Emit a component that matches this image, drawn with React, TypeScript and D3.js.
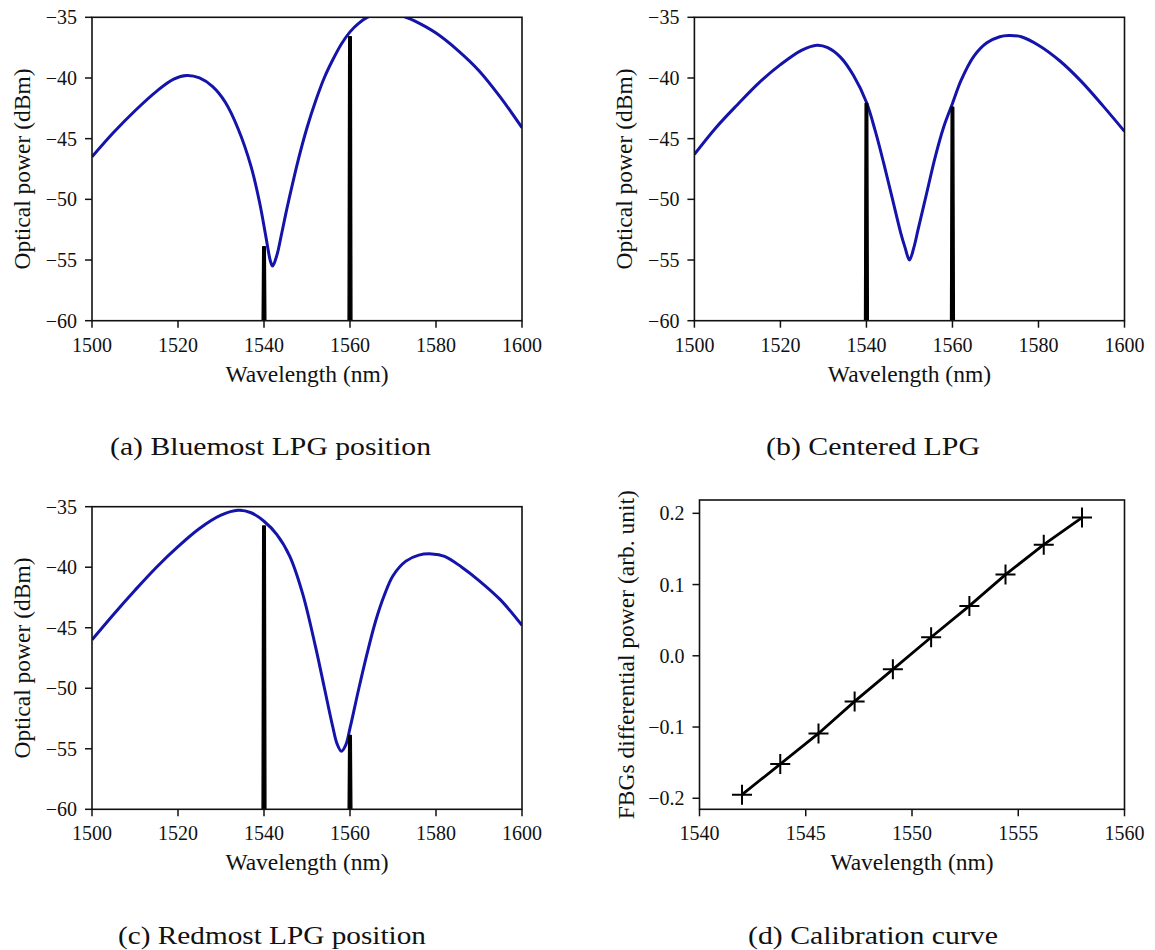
import React from "react";
import * as d3 from "d3";

// ---------- data ----------
const spectrumXTicks = [1500, 1520, 1540, 1560, 1580, 1600];
const spectrumYTicks = [-35, -40, -45, -50, -55, -60];
const fbgCenters = [1540, 1560];

const wlA = [1500, 1505, 1510, 1515, 1519, 1522, 1525, 1528, 1531, 1534, 1537, 1539, 1540.5, 1541.5, 1542, 1543, 1544, 1545, 1546, 1548, 1550, 1552, 1554, 1556, 1558, 1560, 1562, 1564, 1567, 1570, 1573, 1575, 1580, 1585, 1590, 1595, 1600];
const pA = [-46.5, -44.5, -42.7, -41.1, -40.1, -39.8, -40.0, -40.7, -42.0, -44.2, -47.3, -50.3, -53.2, -55.1, -55.5, -54.6, -53.0, -51.3, -49.7, -46.7, -44.1, -41.9, -40.0, -38.5, -37.2, -36.2, -35.5, -35.0, -34.7, -34.7, -35.0, -35.3, -36.3, -37.7, -39.4, -41.6, -44.1];
const fbgPeakA = [-53.9, -36.6];

const wlB = [1500, 1505, 1510, 1515, 1520, 1525, 1528.5, 1531, 1534, 1537, 1540, 1542, 1544, 1546, 1548, 1549, 1550, 1551, 1552, 1554, 1556, 1558, 1560, 1562, 1565, 1568, 1571, 1573, 1576, 1580, 1585, 1590, 1595, 1600];
const pB = [-46.3, -44.1, -42.2, -40.4, -38.9, -37.7, -37.3, -37.5, -38.3, -39.8, -42.0, -44.3, -47.0, -49.9, -52.8, -54.0, -55.0, -54.0, -52.5, -49.5, -46.5, -44.0, -42.1, -40.2, -38.2, -37.1, -36.6, -36.5, -36.6, -37.3, -38.6, -40.3, -42.3, -44.4];
const fbgPeakB = [-42.1, -42.4];

const wlC = [1500, 1505, 1510, 1515, 1520, 1525, 1530, 1534, 1537, 1540, 1543, 1546, 1549, 1552, 1554, 1556, 1557, 1558, 1559, 1560, 1562, 1564, 1566, 1568, 1570, 1573, 1576, 1579, 1582, 1586, 1590, 1595, 1600];
const pC = [-46.0, -43.9, -41.9, -40.0, -38.3, -36.8, -35.7, -35.3, -35.5, -36.2, -37.3, -39.1, -42.2, -46.6, -49.9, -53.2, -54.6, -55.2, -54.7, -53.3, -50.1, -47.1, -44.4, -42.3, -40.7, -39.5, -39.0, -38.9, -39.1, -40.0, -41.1, -42.7, -44.8];
const fbgPeakC = [-36.6, -53.9];

const calibXTicks = [1540, 1545, 1550, 1555, 1560];
const calibYTicks = [0.2, 0.1, 0.0, -0.1, -0.2];
const calibWl = [1542.0, 1543.8, 1545.6, 1547.3, 1549.1, 1550.9, 1552.7, 1554.4, 1556.2, 1558.0];
const calibDiff = [-0.195, -0.152, -0.109, -0.064, -0.019, 0.026, 0.070, 0.114, 0.156, 0.194];

const captions = ["(a) Bluemost LPG position", "(b) Centered LPG", "(c) Redmost LPG position", "(d) Calibration curve"];

// ---------- style ----------
const FONT = "Liberation Serif, Tinos, Times New Roman, DejaVu Serif, serif";
const TICK = 7;
const AX = "#111";
const BLUE = "#1414aa";

const minus = (s: string) => s.replace("-", "\u2212");

type Box = { left: number; right: number; top: number; bottom: number };

function Frame({ xs, ys, xTicks, yTicks, xFmt, yFmt, xLabel, yLabel, yLabelGap }: any) {
  const [x0, x1] = xs.range();
  const [y0, y1] = ys.range();
  const cy = (y0 + y1) / 2;
  const ts = { fontFamily: FONT };
  return (
    <g fill="#111">
      <rect x={x0} y={y1} width={x1 - x0} height={y0 - y1} fill="none" stroke={AX} strokeWidth={1.6} />
      {xTicks.map((t: number) => (
        <g key={"x" + t}>
          <line x1={xs(t)} x2={xs(t)} y1={y0} y2={y0 + TICK} stroke={AX} strokeWidth={1.5} />
          <text x={xs(t)} y={y0 + 31} textAnchor="middle" fontSize={20} style={ts}>{xFmt(t)}</text>
        </g>
      ))}
      {yTicks.map((t: number) => (
        <g key={"y" + t}>
          <line x1={x0 - TICK} x2={x0} y1={ys(t)} y2={ys(t)} stroke={AX} strokeWidth={1.5} />
          <text x={x0 - 15} y={ys(t)} dy="0.35em" textAnchor="end" fontSize={20} style={ts}>{yFmt(t)}</text>
        </g>
      ))}
      <text x={(x0 + x1) / 2} y={y0 + 61} textAnchor="middle" fontSize={23.5} style={ts}>{xLabel}</text>
      <text transform={`translate(${x0 - yLabelGap},${cy}) rotate(-90)`} textAnchor="middle" fontSize={23.5} style={ts}>{yLabel}</text>
    </g>
  );
}

function SpectrumPanel({ id, box, wl, power, peaks }: { id: string; box: Box; wl: number[]; power: number[]; peaks: number[] }) {
  const xs = d3.scaleLinear().domain([1500, 1600]).range([box.left, box.right]);
  const ys = d3.scaleLinear().domain([-60, -35]).range([box.bottom, box.top]);
  const curve = d3
    .line<number>()
    .x((_, i) => xs(wl[i]))
    .y((d) => ys(d))
    .curve(d3.curveCatmullRom.alpha(0.5))(power) as string;
  const spike = d3
    .line<[number, number]>()
    .x((d) => xs(d[0]))
    .y((d) => ys(d[1]));
  return (
    <g>
      <defs>
        <clipPath id={"clip" + id}>
          <rect x={box.left} y={box.top} width={box.right - box.left} height={box.bottom - box.top} />
        </clipPath>
      </defs>
      <g clipPath={`url(#clip${id})`}>
        <path d={curve} fill="none" stroke={BLUE} strokeWidth={3} strokeLinejoin="round" />
        {fbgCenters.map((c, i) => (
          <path
            key={c}
            d={
              spike([
                [c - 0.45, -61],
                [c - 0.3, peaks[i]],
                [c + 0.3, peaks[i]],
                [c + 0.45, -61],
              ]) as string
            }
            fill="#000"
            stroke="#000"
            strokeWidth={1.4}
            strokeLinejoin="round"
          />
        ))}
      </g>
      <Frame
        xs={xs}
        ys={ys}
        xTicks={spectrumXTicks}
        yTicks={spectrumYTicks}
        xFmt={(t: number) => String(t)}
        yFmt={(t: number) => minus(String(t))}
        xLabel="Wavelength (nm)"
        yLabel="Optical power (dBm)"
        yLabelGap={62}
      />
    </g>
  );
}

function CalibPanel({ box }: { box: Box }) {
  const xs = d3.scaleLinear().domain([1540, 1560]).range([box.left, box.right]);
  const ys = d3.scaleLinear().domain([-0.2155, 0.2187]).range([box.bottom, box.top]);
  const path = d3
    .line<number>()
    .x((_, i) => xs(calibWl[i]))
    .y((d) => ys(d))(calibDiff) as string;
  const m = 10;
  return (
    <g>
      <path d={path} fill="none" stroke="#000" strokeWidth={2.8} />
      {calibDiff.map((v, i) => {
        const cx = xs(calibWl[i]);
        const cy = ys(v);
        return (
          <path key={i} d={`M${cx - m},${cy}H${cx + m}M${cx},${cy - m}V${cy + m}`} stroke="#000" strokeWidth={2} fill="none" />
        );
      })}
      <Frame
        xs={xs}
        ys={ys}
        xTicks={calibXTicks}
        yTicks={calibYTicks}
        xFmt={(t: number) => String(t)}
        yFmt={(t: number) => minus(t.toFixed(1))}
        xLabel="Wavelength (nm)"
        yLabel="FBGs differential power (arb. unit)"
        yLabelGap={66}
      />
    </g>
  );
}

function Caption({ text, x0, x1, y }: { text: string; x0: number; x1: number; y: number }) {
  return (
    <text
      x={x0}
      y={y}
      fontSize={26}
      textLength={x1 - x0}
      lengthAdjust="spacingAndGlyphs"
      fill="#111"
      style={{ fontFamily: FONT }}
    >
      {text}
    </text>
  );
}

export default function App() {
  const boxA = { left: 92, right: 522, top: 17.3, bottom: 320.7 };
  const boxB = { left: 694.4, right: 1124.5, top: 17.3, bottom: 320.7 };
  const boxC = { left: 92, right: 522, top: 506.7, bottom: 809.3 };
  const boxD = { left: 699.5, right: 1124.5, top: 500, bottom: 809.3 };
  return (
    <svg width={1155} height={950} style={{ position: "absolute", left: 0, top: 0, background: "#fff" }}>
      <rect width={1155} height={950} fill="#fff" />
      <SpectrumPanel id="a" box={boxA} wl={wlA} power={pA} peaks={fbgPeakA} />
      <SpectrumPanel id="b" box={boxB} wl={wlB} power={pB} peaks={fbgPeakB} />
      <SpectrumPanel id="c" box={boxC} wl={wlC} power={pC} peaks={fbgPeakC} />
      <CalibPanel box={boxD} />
      <Caption text={captions[0]} x0={110} x1={431} y={455} />
      <Caption text={captions[1]} x0={766} x1={980} y={455} />
      <Caption text={captions[2]} x0={118} x1={426} y={944} />
      <Caption text={captions[3]} x0={748} x1={998} y={944} />
    </svg>
  );
}
